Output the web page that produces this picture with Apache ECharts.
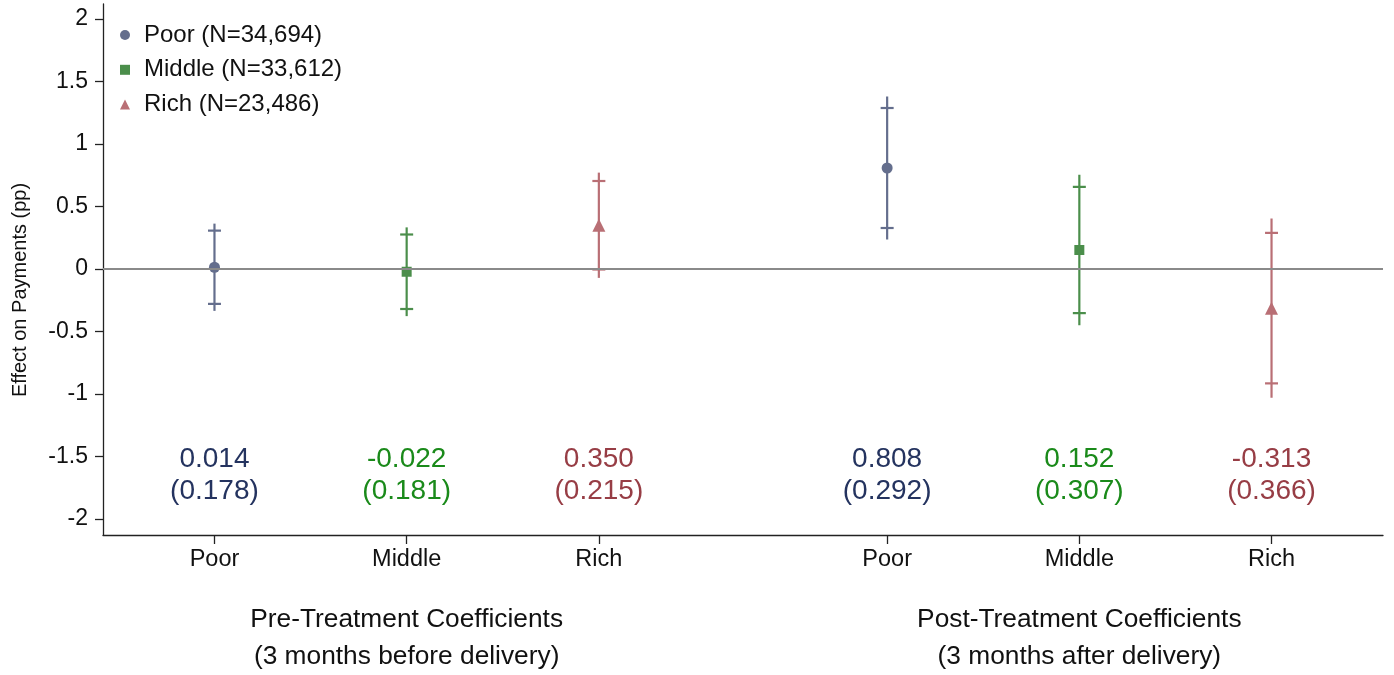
<!DOCTYPE html>
<html><head><meta charset="utf-8">
<script src="https://cdn.jsdelivr.net/npm/echarts@6/dist/echarts.min.js"></script>
<style>html,body{margin:0;padding:0;background:#fff}#c{width:1394px;height:675px}</style>
</head><body><div id="c"></div>
<script>
// ---- data ----
const seriesNames = ['Poor (N=34,694)', 'Middle (N=33,612)', 'Rich (N=23,486)'];
const xTickLabels = ['Poor', 'Middle', 'Rich', 'Poor', 'Middle', 'Rich'];
const xPos = [1, 2, 3, 4.5, 5.5, 6.5];
const groupOf = [0, 1, 2, 0, 1, 2];
const periodLabels = ['Pre-Treatment Coefficients\n(3 months before delivery)', 'Post-Treatment Coefficients\n(3 months after delivery)'];
const periodPos = [2, 5.5];
const estimate = [0.014, -0.022, 0.350, 0.808, 0.152, -0.313];
const stdErr   = [0.178, 0.181, 0.215, 0.292, 0.307, 0.366];
const ci95Low  = [-0.335, -0.377, -0.071, 0.236, -0.450, -1.030];
const ci95High = [0.363, 0.333, 0.771, 1.380, 0.754, 0.404];
const ci90Low  = [-0.279, -0.320, -0.004, 0.328, -0.353, -0.915];
const ci90High = [0.307, 0.276, 0.704, 1.288, 0.657, 0.289];
const yTicks = [-2, -1.5, -1, -0.5, 0, 0.5, 1, 1.5, 2];

// ---- styles ----
const FONT = '"Liberation Sans", Arial, Helvetica, sans-serif';
const markColors = ['#646e8d', '#4b8e4b', '#b96f75'];
const textColors = ['#24335f', '#1a8a1a', '#973d45'];
const symbols = ['circle', 'rect', 'triangle'];
const symbolSizes = [11, 10, 13];
const LABEL_Y = -1.65;

const chart = echarts.init(document.getElementById('c'), null, {renderer: 'canvas'});

function errRender(params, api) {
  const x = api.value(0);
  const lo = api.coord([x, api.value(1)]);
  const hi = api.coord([x, api.value(2)]);
  const l90 = api.coord([x, api.value(3)]);
  const h90 = api.coord([x, api.value(4)]);
  const color = api.visual('color');
  const hw = 6.5;
  const st = {stroke: color, lineWidth: 2.2};
  return {type: 'group', children: [
    {type: 'line', shape: {x1: lo[0], y1: lo[1], x2: hi[0], y2: hi[1]}, style: st},
    {type: 'line', shape: {x1: h90[0] - hw, y1: h90[1], x2: h90[0] + hw, y2: h90[1]}, style: st},
    {type: 'line', shape: {x1: l90[0] - hw, y1: l90[1], x2: l90[0] + hw, y2: l90[1]}, style: st}
  ]};
}

const series = [];
// value labels + zero line
series.push({
  type: 'custom', name: '_labels', z: 1, silent: true,
  encode: {x: 0, y: 1},
  data: xPos.map((x, i) => [x, LABEL_Y, estimate[i], stdErr[i], groupOf[i]]),
  renderItem: function (params, api) {
    const p = api.coord([api.value(0), api.value(1)]);
    const g = api.value(4);
    return {type: 'text', x: p[0], y: p[1], style: {
      text: api.value(2).toFixed(3) + '\n(' + api.value(3).toFixed(3) + ')',
      fill: textColors[g], fontSize: 28, lineHeight: 32, fontFamily: FONT,
      align: 'center', verticalAlign: 'middle'
    }};
  },
  markLine: {
    silent: true, symbol: 'none', label: {show: false},
    lineStyle: {color: '#8a8a8a', width: 2.2, type: 'solid'},
    data: [{yAxis: 0}]
  }
});
for (let g = 0; g < 3; g++) {
  const idx = xPos.map((_, i) => i).filter(i => groupOf[i] === g);
  series.push({
    type: 'custom', name: seriesNames[g], z: 3,
    itemStyle: {color: markColors[g]},
    renderItem: errRender,
    encode: {x: 0, y: [1, 2, 3, 4]},
    data: idx.map(i => [xPos[i], ci95Low[i], ci95High[i], ci90Low[i], ci90High[i]])
  });
  series.push({
    type: 'scatter', name: seriesNames[g], z: 4,
    symbol: symbols[g], symbolSize: symbolSizes[g],
    itemStyle: {color: markColors[g], opacity: 1},
    data: idx.map(i => [xPos[i], estimate[i]])
  });
}

chart.setOption({
  animation: false,
  backgroundColor: '#fff',
  textStyle: {fontFamily: FONT},
  grid: {left: 103, right: 11, top: 4, bottom: 140, containLabel: false, outerBoundsMode: 'none'},
  legend: {
    orient: 'vertical', left: 120, top: 22, padding: 0,
    itemWidth: 10, itemHeight: 10, itemGap: 8.8,
    textStyle: {fontSize: 24, color: '#111', fontFamily: FONT, lineHeight: 26, padding: [0, 0, 0, 9]},
    data: seriesNames.map((n, g) => ({name: n, icon: symbols[g]})),
    selectedMode: false
  },
  xAxis: [{
    type: 'value', min: 0.42, max: 7.08, position: 'bottom',
    splitLine: {show: false},
    axisLine: {show: true, onZero: false, lineStyle: {color: '#222', width: 1.3}},
    axisTick: {show: true, customValues: xPos, length: 9, lineStyle: {color: '#222', width: 1.3}},
    axisLabel: {
      customValues: xPos, margin: 13, fontSize: 23.5, color: '#111', fontFamily: FONT,
      formatter: v => xTickLabels[xPos.indexOf(v)]
    }
  }, {
    type: 'value', min: 0.42, max: 7.08, position: 'bottom', gridIndex: 0,
    splitLine: {show: false},
    axisLine: {show: false}, axisTick: {show: false},
    axisLabel: {
      customValues: periodPos, margin: 66, fontSize: 26.3, lineHeight: 37, color: '#111', fontFamily: FONT,
      formatter: v => periodLabels[periodPos.indexOf(v)]
    }
  }],
  yAxis: {
    type: 'value', min: -2.128, max: 2.12,
    splitLine: {show: false},
    axisLine: {show: true, onZero: false, lineStyle: {color: '#222', width: 1.3}},
    axisTick: {show: true, customValues: yTicks, length: 8, lineStyle: {color: '#222', width: 1.3}},
    axisLabel: {customValues: yTicks, margin: 15, fontSize: 23, color: '#111', fontFamily: FONT,
      formatter: v => String(v)}
  },
  graphic: [{
    type: 'text', x: 20, y: 290, rotation: Math.PI / 2,
    style: {text: 'Effect on Payments (pp)', fontSize: 20, fontFamily: FONT, fill: '#111',
      textAlign: 'center', textVerticalAlign: 'middle'}
  }],
  series: series
});
</script>
</body></html>
